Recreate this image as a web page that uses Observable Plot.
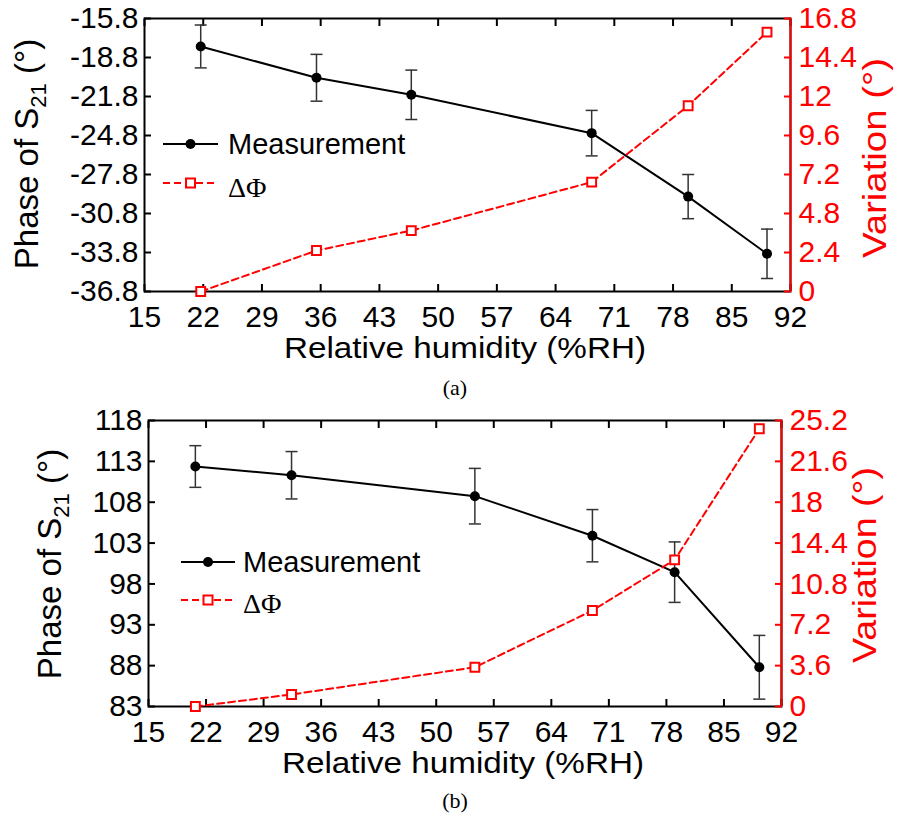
<!DOCTYPE html>
<html>
<head>
<meta charset="utf-8">
<script src="https://cdn.jsdelivr.net/npm/d3@7"></script>
<script src="https://cdn.jsdelivr.net/npm/@observablehq/plot@0.6"></script>
<style>
  body { margin: 0; background: #fff; }
  #root { position: relative; width: 898px; height: 825px; background: #fff; }
  .panel { position: absolute; left: 0; width: 898px; }
  .panel svg { position: absolute; left: 0; top: 0; }
  .cap { position: absolute; left: 0; width: 910px; text-align: center; font-family: "Liberation Serif", "Times New Roman", serif; font-size: 22px; line-height: 22px; }
</style>
</head>
<body>
<div id="root">
  <div id="pa" class="panel" style="top:0px;height:372px"></div>
  <div class="cap" style="top:377px">(a)</div>
  <div id="pb" class="panel" style="top:402px;height:384px"></div>
  <div class="cap" style="top:790px">(b)</div>
</div>
<script>
// ---------- data ----------
const xTicks = [15, 22, 29, 36, 43, 50, 57, 64, 71, 78, 85, 92];

// panel (a)
const rhA = [21.7, 35.5, 46.8, 68.3, 79.8, 89.2];
const phaseA = [-17.95, -20.36, -21.67, -24.62, -29.5, -33.9];
const errA = [1.65, 1.8, 1.9, 1.75, 1.7, 1.9];
const dphiA = [0, 2.52, 3.75, 6.73, 11.43, 15.96];
const leftTicksA = [-36.8, -33.8, -30.8, -27.8, -24.8, -21.8, -18.8, -15.8];
const rightTicksA = [0, 2.4, 4.8, 7.2, 9.6, 12, 14.4, 16.8];

// panel (b)
const rhB = [20.7, 32.4, 54.7, 69.0, 79.0, 89.3];
const phaseB = [112.37, 111.3, 108.74, 103.9, 99.44, 87.8];
const errB = [2.55, 2.9, 3.4, 3.2, 3.7, 3.9];
const dphiB = [0, 1.06, 3.46, 8.46, 12.92, 24.47];
const leftTicksB = [83, 88, 93, 98, 103, 108, 113, 118];
const rightTicksB = [0, 3.6, 7.2, 10.8, 14.4, 18, 21.6, 25.2];

const seriesNames = ["Measurement", "ΔΦ"];
const xTitle = "Relative humidity (%RH)";
const rightTitle = "Variation (°)";

// ---------- drawing ----------
const FONT = "'Liberation Sans', Arial, Helvetica, sans-serif";
const FS = 30;
const capSymbol = {
  draw(ctx, size) { const w = Math.sqrt(size / Math.PI); ctx.moveTo(-w, 0); ctx.lineTo(w, 0); }
};

function drawPanel(el, cfg) {
  const rows = cfg.rh.map((x, i) => ({
    x, y: cfg.phase[i], lo: cfg.phase[i] - cfg.err[i], hi: cfg.phase[i] + cfg.err[i], d: cfg.dphi[i]
  }));
  const common = {
    width: 898, height: cfg.height,
    marginTop: cfg.mt, marginBottom: cfg.mb, marginLeft: cfg.ml, marginRight: cfg.mr,
    style: { fontFamily: FONT, fontSize: FS + "px", background: "transparent", overflow: "visible", maxWidth: "none" }
  };
  const xScale = { domain: [xTicks[0], xTicks[xTicks.length - 1]], label: null };
  const lt = cfg.leftTicks, rt = cfg.rightTicks;

  const left = Plot.plot({
    ...common,
    x: xScale,
    y: { domain: [lt[0], lt[lt.length - 1]], label: null },
    marks: [
      Plot.frame({ stroke: "black", strokeWidth: 2 }),
      Plot.axisX(xTicks, { anchor: "bottom", tickSize: 7, dy: -7, strokeWidth: 2, tickFormat: () => null }),
      Plot.axisX(xTicks, { anchor: "top", tickSize: 7, dy: 7, strokeWidth: 2, tickFormat: () => null }),
      Plot.axisX(xTicks, { anchor: "bottom", tickSize: 0, tickPadding: 14, fontSize: FS, tickFormat: d => String(d) }),
      Plot.axisY(lt, { anchor: "left", tickSize: 7, dx: 7, strokeWidth: 2, tickFormat: () => null }),
      Plot.axisY(lt, { anchor: "left", tickSize: 0, tickPadding: 6, fontSize: FS, tickFormat: d => String(d) }),
      Plot.ruleX(rows, { x: "x", y1: "lo", y2: "hi", stroke: "#333", strokeWidth: 1.5 }),
      Plot.dot(rows, { x: "x", y: "lo", symbol: capSymbol, r: 6, stroke: "#333", fill: "none", strokeWidth: 1.5 }),
      Plot.dot(rows, { x: "x", y: "hi", symbol: capSymbol, r: 6, stroke: "#333", fill: "none", strokeWidth: 1.5 }),
      Plot.line(rows, { x: "x", y: "y", stroke: "black", strokeWidth: 2 }),
      Plot.dot(rows, { x: "x", y: "y", r: 5, fill: "black", stroke: "none" })
    ]
  });

  const right = Plot.plot({
    ...common,
    x: { ...xScale, axis: null },
    y: { domain: [rt[0], rt[rt.length - 1]], label: null },
    marks: [
      Plot.ruleX([xTicks[xTicks.length - 1]], { stroke: "red", strokeWidth: 2 }),
      Plot.axisY(rt, { anchor: "right", tickSize: 7, dx: -7, stroke: "red", strokeWidth: 2, tickFormat: () => null }),
      Plot.axisY(rt, { anchor: "right", tickSize: 0, tickPadding: 8, fill: "red", fontSize: FS, tickFormat: d => String(d) }),
      Plot.line(rows, { x: "x", y: "d", stroke: "red", strokeWidth: 2, strokeDasharray: "7,4" }),
      Plot.dot(rows, { x: "x", y: "d", symbol: "square", r: 5, stroke: "red", fill: "white", strokeWidth: 2 })
    ]
  });

  el.appendChild(left);
  el.appendChild(right);

  // axis titles
  const L = d3.select(left);
  const yt = L.append("text")
    .attr("transform", `translate(${cfg.ytx},${cfg.yty}) rotate(-90)`)
    .attr("text-anchor", "middle").attr("font-family", FONT).attr("font-size", 33).attr("fill", "black");
  yt.append("tspan").text("Phase of S");
  yt.append("tspan").attr("font-size", 22).attr("dy", 8).text("21");
  yt.append("tspan").attr("dy", -8).text(" (°)");

  L.append("text")
    .attr("x", cfg.xtx).attr("y", cfg.xty)
    .attr("text-anchor", "middle").attr("font-family", FONT).attr("font-size", 30).attr("fill", "black")
    .attr("textLength", cfg.xtl).attr("lengthAdjust", "spacingAndGlyphs")
    .text(xTitle);

  const R = d3.select(right);
  R.append("text")
    .attr("transform", `translate(${cfg.rtx},${cfg.rty}) rotate(-90)`)
    .attr("text-anchor", "middle").attr("font-family", FONT).attr("font-size", 33).attr("fill", "red")
    .attr("textLength", cfg.rtl).attr("lengthAdjust", "spacingAndGlyphs")
    .text(rightTitle);

  // legend
  const lg = R.append("g").attr("text-anchor", "start");
  const g = cfg.leg;
  lg.append("line").attr("x1", g.x0).attr("x2", g.x1).attr("y1", g.y1).attr("y2", g.y1)
    .attr("stroke", "black").attr("stroke-width", 2);
  lg.append("circle").attr("cx", (g.x0 + g.x1) / 2).attr("cy", g.y1).attr("r", 5).attr("fill", "black");
  lg.append("text").attr("x", g.xt).attr("y", g.b1).attr("font-family", FONT).attr("font-size", 29)
    .attr("fill", "black").text(seriesNames[0]);
  lg.append("line").attr("x1", g.x0).attr("x2", g.x1).attr("y1", g.y2).attr("y2", g.y2)
    .attr("stroke", "red").attr("stroke-width", 2).attr("stroke-dasharray", "7,4");
  const s = 9;
  lg.append("rect").attr("x", (g.x0 + g.x1) / 2 - s / 2).attr("y", g.y2 - s / 2).attr("width", s).attr("height", s)
    .attr("fill", "white").attr("stroke", "red").attr("stroke-width", 2);
  lg.append("text").attr("x", g.xt).attr("y", g.b2)
    .attr("font-family", "'Liberation Serif', 'Times New Roman', serif").attr("font-size", 28)
    .attr("fill", "black").text(seriesNames[1]);
}

drawPanel(document.getElementById("pa"), {
  rh: rhA, phase: phaseA, err: errA, dphi: dphiA, leftTicks: leftTicksA, rightTicks: rightTicksA,
  height: 372, mt: 18, mb: 81, ml: 144, mr: 108,
  ytx: 38, yty: 154, rtx: 886, rty: 158, rtl: 200, xtx: 465, xty: 358, xtl: 362,
  leg: { x0: 163, x1: 218, y1: 144, b1: 154, y2: 183, b2: 197, xt: 228 }
});

drawPanel(document.getElementById("pb"), {
  rh: rhB, phase: phaseB, err: errB, dphi: dphiB, leftTicks: leftTicksB, rightTicks: rightTicksB,
  height: 384, mt: 18, mb: 80, ml: 148, mr: 117,
  ytx: 61, yty: 162, rtx: 876, rty: 163, rtl: 196, xtx: 463, xty: 371, xtl: 362,
  leg: { x0: 181, x1: 235, y1: 160, b1: 170, y2: 198, b2: 211, xt: 243 }
});
</script>
</body>
</html>
